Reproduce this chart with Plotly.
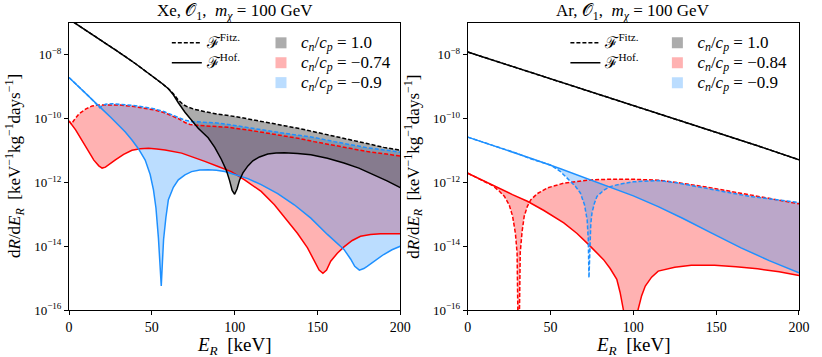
import numpy as np
import plotly.graph_objects as go

# values, stored as log10(dR/dE_R)

# ---- Xe, O1, m_chi = 100 GeV
xe_black_hof_E = [0, 5, 10, 20, 30, 40, 50, 56, 60, 63, 66, 70, 74, 78, 84, 88, 92, 95, 97, 98.5,
                  100, 101.5, 103, 105, 108, 111, 115, 120, 125, 130, 138, 146, 156, 166, 175, 184, 192, 200]
xe_black_hof = [-6.88, -7.05, -7.22, -7.56, -7.91, -8.27, -8.64, -8.89, -9.06, -9.25,
                -9.5, -9.8, -10.05, -10.3, -10.6, -10.9, -11.28, -11.62, -11.95, -12.25,
                -12.37, -12.2, -11.92, -11.7, -11.48, -11.32, -11.2, -11.11, -11.08, -11.07,
                -11.09, -11.13, -11.24, -11.39, -11.55, -11.76, -11.95, -12.16]
xe_black_fitz_E = [0, 5, 10, 20, 30, 40, 50, 56, 60, 63, 66, 69, 72, 76, 82, 90, 100, 110, 120, 130,
                   140, 150, 160, 170, 180, 190, 200]
xe_black_fitz = [-6.88, -7.05, -7.22, -7.56, -7.91, -8.27, -8.64, -8.89, -9.06, -9.22,
                 -9.42, -9.56, -9.64, -9.71, -9.78, -9.86, -9.93, -10.02, -10.12, -10.22,
                 -10.32, -10.43, -10.55, -10.66, -10.78, -10.9, -10.99]

xe_red_hof_E = [0, 1.5, 4, 8, 12, 15, 18, 20, 22, 25, 28, 33, 38, 43, 48, 53, 58, 68, 75, 82,
                90, 98, 106, 116, 124, 132, 138, 144, 148, 151, 153.3, 155.5, 158, 162, 166, 171, 176, 182, 188, 200]
xe_red_hof = [-10.07, -10.17, -10.35, -10.7, -11.05, -11.3, -11.48, -11.55, -11.52, -11.4,
              -11.29, -11.12, -10.99, -10.94, -10.93, -10.95, -10.98, -11.08, -11.2, -11.34,
              -11.5, -11.66, -11.92, -12.28, -12.7, -13.22, -13.6, -14.05, -14.45, -14.75,
              -14.85, -14.75, -14.47, -14.22, -14.02, -13.82, -13.69, -13.63, -13.61, -13.61]
xe_red_fitz_E = [0, 1.5, 3, 6, 10, 14, 18, 24, 30, 38, 46, 52, 58, 62, 66, 70, 73, 78, 85, 96,
                 110, 120, 130, 140, 148, 160, 170, 180, 190, 200]
xe_red_fitz = [-10.07, -10.17, -10.05, -9.85, -9.7, -9.6, -9.57, -9.56, -9.57, -9.61,
               -9.67, -9.73, -9.82, -9.9, -10.0, -10.12, -10.18, -10.21, -10.23, -10.27,
               -10.37, -10.45, -10.54, -10.63, -10.72, -10.84, -10.94, -11.03, -11.1, -11.17]

xe_blue_hof_E = [0, 5, 10, 15, 20, 25, 30, 34, 38, 42, 46, 49, 51, 52.5, 54, 55, 55.7, 56.4, 57.1, 58.5,
                 60, 63, 66, 70, 74, 79, 84, 89, 94, 100, 108, 116, 126, 136, 146, 156, 162, 166, 170, 172.5,
                 175.3, 178, 180, 185, 190, 195, 200]
xe_blue_hof = [-8.71, -8.95, -9.2, -9.45, -9.7, -9.95, -10.2, -10.42, -10.67, -10.95,
               -11.3, -11.75, -12.23, -12.8, -13.75, -14.5, -15.25, -14.5, -13.79, -13.1,
               -12.54, -12.15, -11.92, -11.76, -11.66, -11.61, -11.6, -11.62, -11.66, -11.75,
               -11.88, -12.07, -12.35, -12.7, -13.12, -13.63, -13.92, -14.1, -14.4, -14.63,
               -14.75, -14.7, -14.63, -14.45, -14.26, -14.11, -14.0]
xe_blue_fitz_E = [0, 4, 8, 12, 15, 17, 18.5, 20, 22, 26, 30, 38, 46, 52, 58, 62, 66, 70, 74, 80,
                  88, 96, 110, 120, 130, 140, 148, 160, 170, 180, 190, 200]
xe_blue_fitz = [-8.71, -8.9, -9.1, -9.3, -9.46, -9.58, -9.66, -9.6, -9.55, -9.53,
                -9.54, -9.58, -9.64, -9.7, -9.79, -9.87, -9.96, -10.05, -10.09, -10.11,
                -10.13, -10.18, -10.3, -10.38, -10.46, -10.53, -10.59, -10.72, -10.82, -10.91,
                -10.98, -11.05]

# ---- Ar, O1, m_chi = 100 GeV
ar_black_E = [0, 25, 50, 75, 100, 125, 150, 175, 200]
ar_black_hof = [-7.91, -8.33, -8.75, -9.17, -9.59, -10.0, -10.42, -10.85, -11.29]
ar_black_fitz = [-7.91, -8.33, -8.75, -9.17, -9.59, -10.0, -10.42, -10.85, -11.29]

ar_red_hof_E = [0, 10, 18, 27, 36, 46, 58, 66, 73, 78, 82, 86, 90, 92, 94, 96, 98, 100.5, 102.8, 105,
                107.2, 111, 115, 125, 135, 149, 162, 175, 188, 200]
ar_red_hof = [-11.71, -11.96, -12.17, -12.38, -12.59, -12.88, -13.27, -13.6, -13.95, -14.2,
              -14.42, -14.7, -15.04, -15.45, -16.0, -16.8, -18.0, -16.9, -16.0, -15.55,
              -15.25, -14.97, -14.78, -14.66, -14.6, -14.6, -14.64, -14.71, -14.8, -14.92]
ar_red_fitz_E = [0, 10, 15, 19, 22.2, 25, 27.1, 28.8, 29.8, 30.75, 31.7, 32.8, 34.1, 36, 38.1, 42, 48.1, 58.1, 66, 74.1,
                 85, 100, 115, 130, 147.1, 165, 182, 200]
ar_red_fitz = [-11.71, -11.96, -12.1, -12.27, -12.44, -12.7, -13.06, -13.6, -14.21, -18.0,
               -14.2, -13.55, -13.06, -12.75, -12.54, -12.35, -12.17, -12.02, -11.96, -11.92,
               -11.9, -11.9, -11.93, -12.03, -12.17, -12.34, -12.5, -12.67]

ar_blue_hof_E = [0, 20, 38, 56, 74, 87, 100, 115, 130, 147, 165, 182, 200]
ar_blue_hof = [-10.58, -10.92, -11.24, -11.57, -11.92, -12.15, -12.42, -12.76, -13.13, -13.58, -14.05, -14.45, -14.83]
ar_blue_fitz_E = [0, 20, 30, 38, 44, 50, 56, 61, 65, 68, 70.5, 72.1, 72.8, 73.2, 73.7, 74.3, 75, 76.5, 78, 82,
                  86, 92, 100, 108, 115.2, 125, 135, 147, 160, 172, 186, 200]
ar_blue_fitz = [-10.58, -10.92, -11.09, -11.26, -11.36, -11.45, -11.66, -11.92, -12.12, -12.33,
                -12.7, -13.17, -13.8, -14.99, -13.8, -13.3, -12.96, -12.65, -12.44, -12.25,
                -12.13, -12.05, -11.98, -11.95, -11.94, -12.0, -12.1, -12.23, -12.34, -12.45,
                -12.55, -12.63]

panels = [
    dict(
        title="Xe, 𝒪<sub>1</sub>,  <i>m</i><sub><i>χ</i></sub> = 100 GeV",
        ratios=["1.0", "−0.74", "−0.9"],
        cases=[
            ("red", xe_red_fitz_E, xe_red_fitz, xe_red_hof_E, xe_red_hof),
            ("blue", xe_blue_fitz_E, xe_blue_fitz, xe_blue_hof_E, xe_blue_hof),
            ("black", xe_black_fitz_E, xe_black_fitz, xe_black_hof_E, xe_black_hof),
        ],
    ),
    dict(
        title="Ar, 𝒪<sub>1</sub>,  <i>m</i><sub><i>χ</i></sub> = 100 GeV",
        ratios=["1.0", "−0.84", "−0.9"],
        cases=[
            ("red", ar_red_fitz_E, ar_red_fitz, ar_red_hof_E, ar_red_hof),
            ("blue", ar_blue_fitz_E, ar_blue_fitz, ar_blue_hof_E, ar_blue_hof),
            ("black", ar_black_E, ar_black_fitz, ar_black_E, ar_black_hof),
        ],
    ),
]

line_colors = {"red": "#ff0000", "blue": "#1e90ff", "black": "#000000"}
fill_colors = {
    "red": "rgba(255,0,0,0.3)",
    "blue": "rgba(30,144,255,0.3)",
    "black": "rgba(70,70,70,0.45)",
}
FONT = "Liberation Serif"
SPAN = "<span style='font-family:Liberation Serif;font-size:{}px'>{}</span>"

fig = go.Figure()
domains = [[0, 0.4538], [0.5462, 1]]

for i, panel in enumerate(panels):
    xa = "x" if i == 0 else "x2"
    ya = "y" if i == 0 else "y2"

    # shaded band between the two form factors
    for color, E_f, fitz, E_h, hof in panel["cases"]:
        fig.add_trace(
            go.Scatter(
                x=list(E_f) + list(E_h)[::-1],
                y=list(10 ** np.array(fitz)) + list(10 ** np.array(hof))[::-1],
                fill="toself",
                fillcolor=fill_colors[color],
                line=dict(width=0),
                mode="lines",
                hoverinfo="skip",
                showlegend=False,
                xaxis=xa,
                yaxis=ya,
            )
        )

    for color, E_f, fitz, E_h, hof in panel["cases"]:
        fig.add_trace(
            go.Scatter(
                x=E_h, y=10 ** np.array(hof), mode="lines",
                line=dict(color=line_colors[color], width=1.5),
                showlegend=False, xaxis=xa, yaxis=ya,
            )
        )
        fig.add_trace(
            go.Scatter(
                x=E_f, y=10 ** np.array(fitz), mode="lines",
                line=dict(color=line_colors[color], width=1.5, dash="4px,2px"),
                showlegend=False, xaxis=xa, yaxis=ya,
            )
        )

    # legend-only entries (text enlarged inline, row spacing follows the 13px legend font)
    lg_lines = "legend" if i == 0 else "legend3"
    lg_fills = "legend2" if i == 0 else "legend4"
    for label, dash in [("Fitz.", "4px,2px"), ("Hof.", "solid")]:
        fig.add_trace(
            go.Scatter(
                x=[None], y=[None], mode="lines",
                name=SPAN.format(16, f"ℱ<sup>{label}</sup>"),
                line=dict(color="black", width=1.5, dash=dash),
                legend=lg_lines, xaxis=xa, yaxis=ya,
            )
        )
    for key, r in zip(["black", "red", "blue"], panel["ratios"]):
        fig.add_trace(
            go.Scatter(
                x=[None], y=[None], mode="markers",
                name=SPAN.format(17, f"<i>c<sub>n</sub></i>/<i>c<sub>p</sub></i> = {r}"),
                marker=dict(symbol="square", size=11, color=fill_colors[key], line=dict(width=0)),
                legend=lg_fills, xaxis=xa, yaxis=ya,
            )
        )

    axis_common = dict(
        showline=True, mirror=True, linecolor="black", linewidth=1,
        ticks="outside", ticklen=4, tickcolor="black", showgrid=False, zeroline=False,
    )
    fig.update_layout(
        {
            ("xaxis" if i == 0 else "xaxis2"): dict(
                domain=domains[i], range=[0, 200], anchor=ya,
                tickvals=[0, 50, 100, 150, 200],
                tickfont=dict(family=FONT, size=14, color="black"),
                **axis_common,
            ),
            ("yaxis" if i == 0 else "yaxis2"): dict(
                domain=[0, 1], type="log", range=[-16, -7], anchor=xa,
                tickvals=[1e-16, 1e-14, 1e-12, 1e-10, 1e-8],
                ticktext=["10<sup>−16</sup>", "10<sup>−14</sup>", "10<sup>−12</sup>",
                          "10<sup>−10</sup>", "10<sup>−8</sup>"],
                tickfont=dict(family=FONT, size=13, color="black"),
                **axis_common,
            ),
        }
    )

    x0, x1 = domains[i]
    fig.add_annotation(
        text=panel["title"], x=(x0 + x1) / 2, y=1.0, xref="paper", yref="paper",
        xanchor="center", yanchor="middle", yshift=11, showarrow=False,
        font=dict(family=FONT, size=17, color="black"),
    )
    fig.add_annotation(
        text="<i>E<sub>R</sub></i>  [keV]", x=(x0 + x1) / 2, y=0, xref="paper", yref="paper",
        xanchor="center", yanchor="top", yshift=-22, showarrow=False,
        font=dict(family=FONT, size=19, color="black"),
    )
    fig.add_annotation(
        text="d<i>R</i>/d<i>E<sub>R</sub></i>  [keV<sup>−1</sup>kg<sup>−1</sup>days<sup>−1</sup>]",
        x=x0, y=0.5, xref="paper", yref="paper", xanchor="right", yanchor="middle",
        xshift=-40, textangle=-90, showarrow=False,
        font=dict(family=FONT, size=17, color="black"),
    )

legend_common = dict(
    bgcolor="rgba(0,0,0,0)", borderwidth=0, xanchor="left", yanchor="top",
    font=dict(family=FONT, size=13, color="black"), itemwidth=30, tracegroupgap=0,
)
fig.update_layout(
    legend=dict(x=0.134, y=0.983, **legend_common),
    legend2=dict(x=0.263, y=0.983, **legend_common),
    legend3=dict(x=0.68, y=0.983, **legend_common),
    legend4=dict(x=0.806, y=0.983, **legend_common),
    width=822,
    height=357,
    margin=dict(l=69, r=17, t=23, b=47),
    plot_bgcolor="white",
    paper_bgcolor="white",
)
# page body has an 8px default margin; drop it so the figure fills the window
fig.write_html(
    "out.html",
    config={"displayModeBar": False},
    post_script="document.body.style.margin='0';",
)
